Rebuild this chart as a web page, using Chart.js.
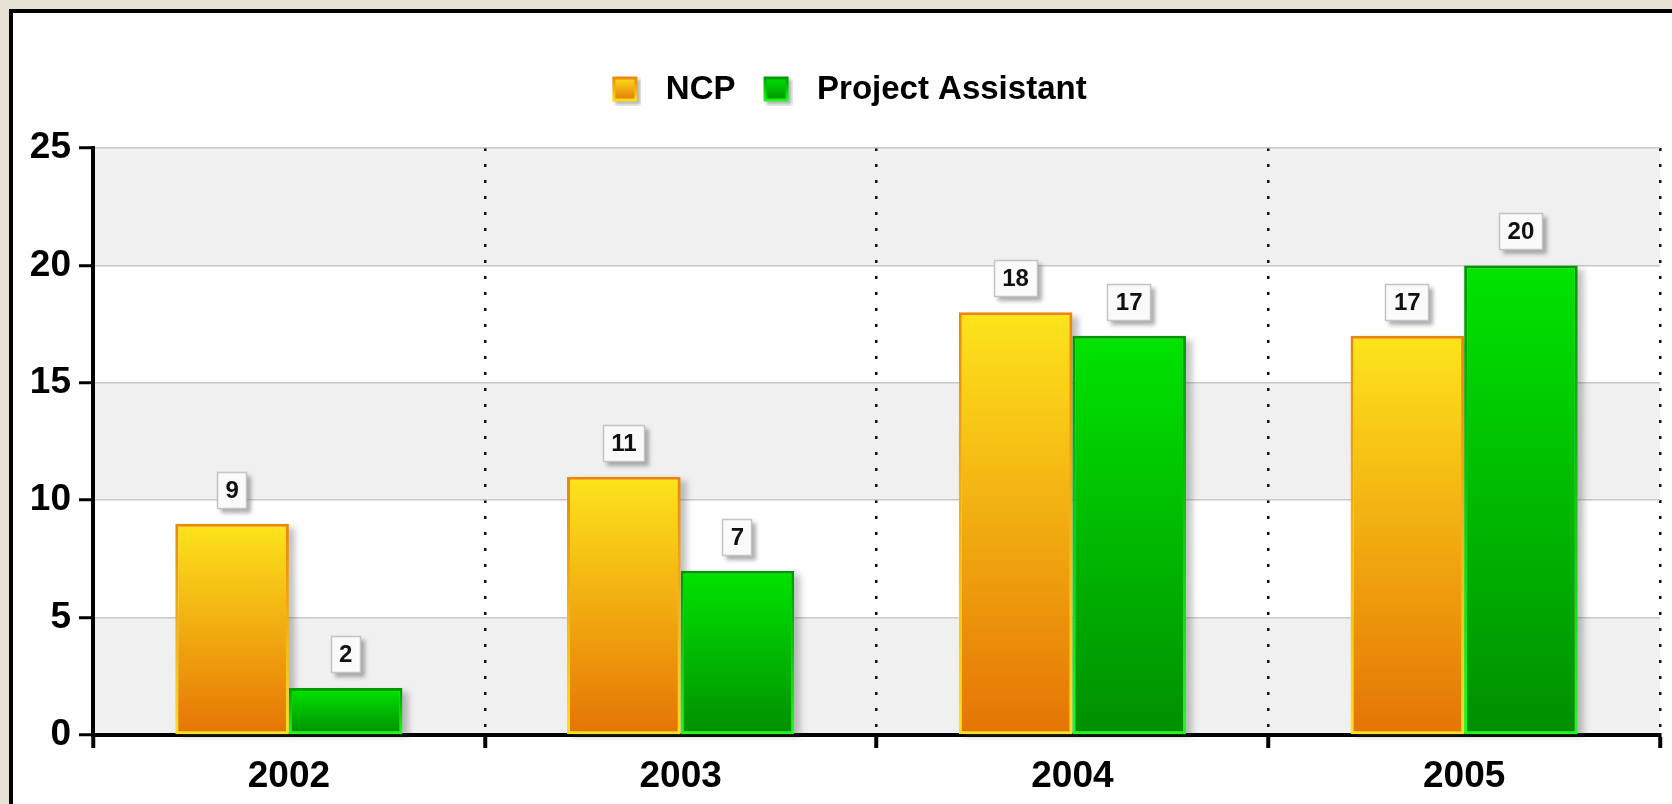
<!DOCTYPE html>
<html>
<head>
<meta charset="utf-8">
<script src="https://cdn.jsdelivr.net/npm/chart.js@4"></script>
<style>
  html, body { margin: 0; padding: 0; }
  body { width: 1672px; height: 804px; background: #e8e1d5; position: relative; overflow: hidden; }
  #panel { position: absolute; left: 9px; top: 9px; width: 1700px; height: 840px; background: #fff; border: 4px solid #000; }
  #staffChart { position: absolute; left: 0; top: 0; }
</style>
</head>
<body>
<div id="panel"></div>
<canvas id="staffChart" width="1672" height="804"></canvas>
<script>
const years = ['2002', '2003', '2004', '2005'];
const ncpValues = [9, 11, 18, 17];
const assistantValues = [2, 7, 17, 20];
const yTicks = [0, 5, 10, 15, 20, 25];

const FONT = 'Arial, "Liberation Sans", sans-serif';
Chart.defaults.font.family = FONT;
Chart.defaults.color = '#000';

const ncpColors = { top: '#fde41c', bottom: '#e57405', edgeTop: '#ea860c', edgeBottom: '#fde01a' };
const paColors = { top: '#00e400', bottom: '#008f00', edgeTop: '#009800', edgeBottom: '#19ff19' };

function barFill(colors, stroke) {
    return function (c) {
        const chart = c.chart;
        const area = chart.chartArea;
        if (!area || c.parsed === undefined) return colors.top;
        const y = chart.scales.y.getPixelForValue(c.parsed.y);
        const g = chart.ctx.createLinearGradient(0, y, 0, area.bottom);
        if (stroke) {
            g.addColorStop(0, colors.edgeTop);
            g.addColorStop(1, colors.edgeBottom);
        } else {
            g.addColorStop(0, colors.top);
            g.addColorStop(1, colors.bottom);
        }
        return g;
    };
}

function legendIcon(colors) {
    const cv = document.createElement('canvas');
    cv.width = 32; cv.height = 32;
    const x = cv.getContext('2d');
    x.fillStyle = 'rgba(90,90,90,0.45)';
    x.filter = 'blur(1.5px)';
    x.fillRect(6, 6, 25, 25);
    x.filter = 'none';
    const g = x.createLinearGradient(0, 3, 0, 28);
    g.addColorStop(0, colors.top);
    g.addColorStop(1, colors.bottom);
    const e = x.createLinearGradient(0, 3, 0, 28);
    e.addColorStop(0, colors.edgeTop);
    e.addColorStop(1, colors.edgeBottom);
    x.fillStyle = e;
    x.fillRect(3, 3, 25, 25);
    x.fillStyle = g;
    x.fillRect(6, 6, 19, 19);
    return cv;
}

const bandsPlugin = {
    id: 'bands',
    beforeDraw(chart) {
        const { ctx, chartArea: a, scales: { y } } = chart;
        ctx.save();
        for (let i = 0; i < yTicks.length - 1; i += 2) {
            const y0 = y.getPixelForValue(yTicks[i]);
            const y1 = y.getPixelForValue(yTicks[i + 1]);
            ctx.fillStyle = '#f0f0f0';
            ctx.fillRect(a.left, y1, a.right - a.left, y0 - y1);
        }
        ctx.restore();
    }
};

const shadowPlugin = {
    id: 'barShadow',
    beforeDatasetsDraw(chart) {
        const ctx = chart.ctx;
        ctx.save();
        ctx.fillStyle = 'rgba(80,80,80,0.35)';
        ctx.filter = 'blur(3px)';
        chart.data.datasets.forEach((ds, i) => {
            chart.getDatasetMeta(i).data.forEach(bar => {
                const left = bar.x - bar.width / 2;
                ctx.fillRect(left + 6, bar.y + 4, bar.width, bar.base - bar.y - 2);
            });
        });
        ctx.restore();
    }
};

const valueLabels = {
    id: 'valueLabels',
    afterDatasetsDraw(chart) {
        const ctx = chart.ctx;
        ctx.save();
        ctx.font = 'bold 24px ' + FONT;
        ctx.textAlign = 'center';
        ctx.textBaseline = 'middle';
        chart.data.datasets.forEach((ds, i) => {
            chart.getDatasetMeta(i).data.forEach((bar, j) => {
                const txt = String(ds.data[j]);
                const w = Math.round(ctx.measureText(txt).width + 17);
                const h = 37;
                const bx = Math.round(bar.x - w / 2);
                const by = Math.round(bar.y - 15 - h);
                ctx.save();
                ctx.fillStyle = 'rgba(90,90,90,0.5)';
                ctx.filter = 'blur(2px)';
                ctx.fillRect(bx + 4, by + 4, w, h);
                ctx.restore();
                ctx.fillStyle = '#fafafa';
                ctx.fillRect(bx, by, w, h);
                ctx.strokeStyle = '#c4c4c4';
                ctx.lineWidth = 1.5;
                ctx.strokeRect(bx + 0.5, by + 0.5, w - 1, h - 1);
                ctx.fillStyle = '#111';
                ctx.fillText(txt, bar.x, by + h / 2 + 1);
            });
        });
        ctx.restore();
    }
};

// legend box sits a little lower than Chart.js would put it, and slightly right of centre
const legendSpace = {
    id: 'legendSpace',
    beforeInit(chart) {
        const fit = chart.legend.fit;
        chart.legend.fit = function () {
            fit.bind(chart.legend)();
            this.height = 148 - 56;
        };
    },
    afterLayout(chart) {
        chart.legend.left += 14;
        chart.legend.right += 14;
    }
};

const ctx = document.getElementById('staffChart').getContext('2d');
const staffChart = new Chart(ctx, {
    type: 'bar',
    data: {
        labels: years,
        datasets: [{
            label: 'NCP',
            data: ncpValues,
            backgroundColor: barFill(ncpColors, false),
            borderColor: barFill(ncpColors, true),
            borderWidth: 3,
            borderSkipped: false,
            categoryPercentage: 0.58,
            barPercentage: 1.0
        }, {
            label: 'Project Assistant',
            data: assistantValues,
            backgroundColor: barFill(paColors, false),
            borderColor: barFill(paColors, true),
            borderWidth: 3,
            borderSkipped: false,
            categoryPercentage: 0.58,
            barPercentage: 1.0
        }]
    },
    options: {
        responsive: false,
        maintainAspectRatio: false,
        animation: false,
        devicePixelRatio: 1,
        layout: { padding: { top: 56, left: 0, right: 12, bottom: 0 } },
        plugins: {
            tooltip: { enabled: false },
            legend: {
                position: 'top',
                labels: {
                    usePointStyle: true,
                    pointStyleWidth: 48,
                    padding: 17,
                    font: { size: 33, weight: 'bold' },
                    color: '#000',
                    generateLabels(chart) {
                        return chart.data.datasets.map((ds, i) => ({
                            text: ds.label,
                            datasetIndex: i,
                            pointStyle: legendIcon(i === 0 ? ncpColors : paColors),
                            fontColor: '#000',
                            lineWidth: 0,
                            hidden: false
                        }));
                    }
                }
            }
        },
        scales: {
            x: {
                afterFit(scale) { scale.height = 69; },
                grid: {
                    offset: true,
                    color: '#111',
                    lineWidth: 2.5,
                    tickBorderDash: [],
                    tickColor: '#000',
                    tickWidth: 4,
                    tickLength: 13
                },
                border: { color: '#000', width: 4, dash: [3, 13] },
                ticks: { font: { size: 37, weight: 'bold' }, color: '#000', padding: 7 }
            },
            y: {
                min: 0,
                max: 25,
                afterFit(scale) { scale.width = 93; },
                afterBuildTicks(scale) { scale.ticks = yTicks.map(v => ({ value: v })); },
                grid: {
                    color: '#c8c8c8',
                    lineWidth: 1.5,
                    tickColor: '#000',
                    tickWidth: 3,
                    tickLength: 14
                },
                border: { color: '#000', width: 4 },
                ticks: { font: { size: 37, weight: 'bold' }, color: '#000', padding: 8 }
            }
        }
    },
    plugins: [bandsPlugin, shadowPlugin, valueLabels, legendSpace]
});
</script>
</body>
</html>
